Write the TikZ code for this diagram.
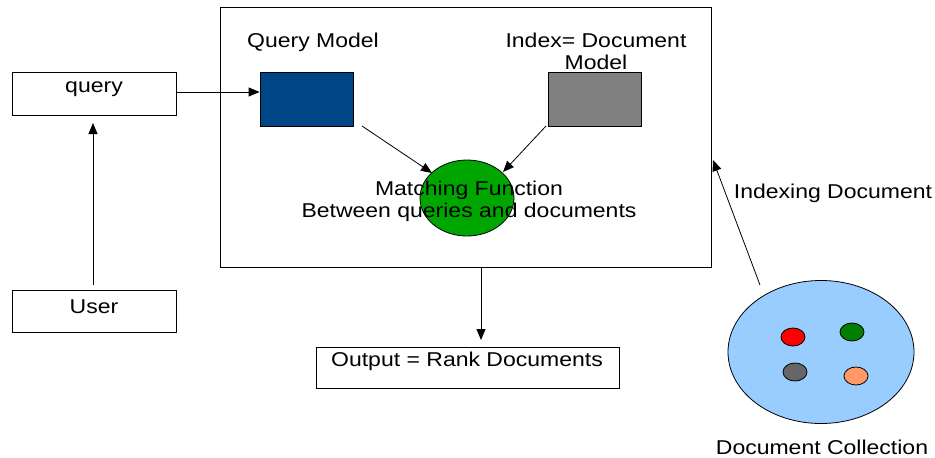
\documentclass[tikz,border=0pt]{standalone}
\usepackage{fontspec}
\setmainfont{Liberation Sans}[FakeStretch=1.15]
\usetikzlibrary{arrows.meta,shapes.geometric}
\definecolor{qblue}{HTML}{004586}
\definecolor{dgray}{HTML}{808080}
\definecolor{mgreen}{HTML}{00A600}
\definecolor{lblue}{HTML}{99CCFF}
\definecolor{dgreen}{HTML}{007F00}
\definecolor{sgray}{HTML}{666666}
\definecolor{sorange}{HTML}{FF9966}
\begin{document}
\begin{tikzpicture}[x=1pt,y=-1pt,
  box/.style={draw=black,line width=0.8pt,fill=white},
  lbl/.style={inner sep=0pt,font=\fontsize{20}{22}\selectfont,align=center},
  arr/.style={-{Triangle[length=11pt,width=9pt]},line width=0.8pt},
  dot/.style={draw=black,line width=0.8pt,ellipse,minimum width=24pt,minimum height=18pt,inner sep=0pt}]
\useasboundingbox (0,0) rectangle (935,458);
% big frame
\draw[line width=0.8pt] (220,7) rectangle (711,267);
\coordinate (framebot) at (481,267);
\coordinate (frameright) at (713,160);
% left boxes
\draw[box] (12,72) rectangle (176,115);
\coordinate (qright) at (176,92);
\coordinate (qbot) at (93,123);
\node[lbl] (qtxt) at (94,89) {query};
\draw[box] (12,290) rectangle (176,332);
\coordinate (utop) at (93,285);
\node[lbl] (utxt) at (94,307) {User};
% models
\node[draw=black,line width=0.8pt,fill=qblue,minimum width=93pt,minimum height=54pt,inner sep=0pt] (qm) at (306.5,99) {};
\node[draw=black,line width=0.8pt,fill=dgray,minimum width=93pt,minimum height=54pt,inner sep=0pt] (dm) at (594.5,99) {};
\node[lbl] (qmt) at (313,42) {Query Model};
\node[lbl] (dmt) at (596,51) {Index= Document\\Model};
% matching
\node[draw=black,line width=0.8pt,fill=mgreen,ellipse,minimum width=94pt,minimum height=76pt,inner sep=0pt] (match) at (467,198) {};
\node[lbl] (mt) at (469,201) {Matching Function\\Between queries and documents};
\coordinate (qms) at (362,126);
\coordinate (dms) at (546,126);
\draw[arr] (qms) -- (432,173);
\draw[arr] (dms) -- (503,172);
% output
\draw[box] (316,347) rectangle (619,388);
\coordinate (otop) at (481,340);
\node[lbl] (ot) at (467,361) {Output = Rank Documents};
% arrows
\draw[arr] (qright) -- (qm.west |- qright);
\draw[arr] (utop) -- (qbot);
\draw[arr] (framebot) -- (otop);
% collection
\node[draw=black,line width=0.8pt,fill=lblue,ellipse,minimum width=186pt,minimum height=143pt,inner sep=0pt] (coll) at (821,352) {};
\node[dot,fill=red] (d1) at (793,337) {};
\node[dot,fill=dgreen] (d2) at (852,332) {};
\node[dot,fill=sgray] (d3) at (795,372) {};
\node[dot,fill=sorange] (d4) at (856,376) {};
\coordinate (cs) at (760,285);
\draw[arr] (cs) -- (frameright);
\node[lbl] (it) at (833,193) {Indexing Document};
\node[lbl] (ct) at (822,447) {Document Collection};
\end{tikzpicture}
\end{document}
